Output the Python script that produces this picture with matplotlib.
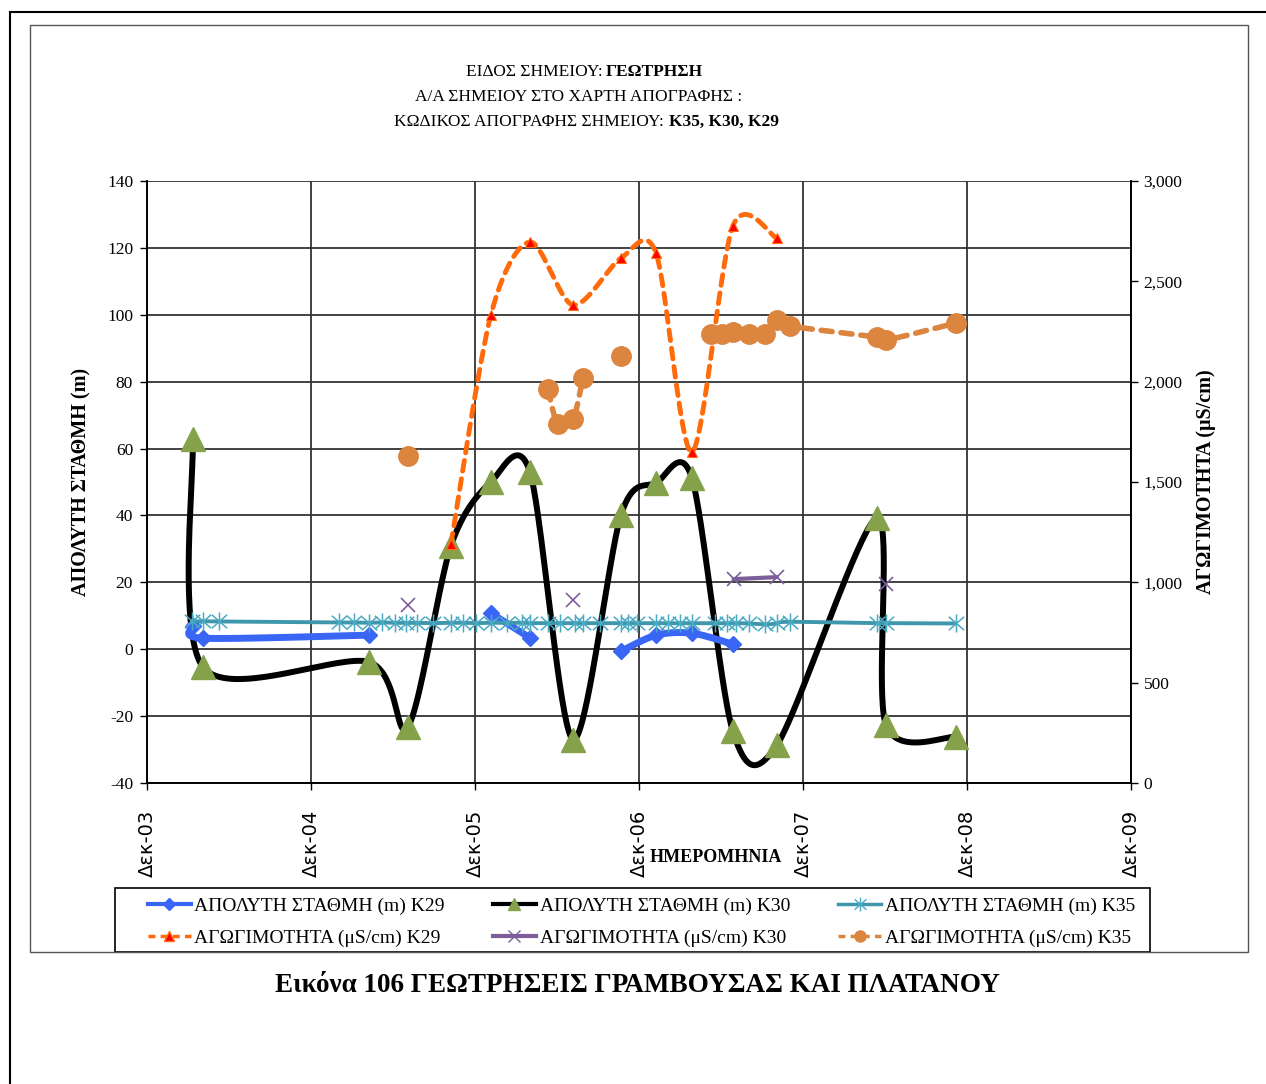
import numpy as np
import pandas as pd
import matplotlib
matplotlib.use('Agg')
import matplotlib.pyplot as plt
import matplotlib.dates as mdates
from matplotlib.lines import Line2D
from matplotlib.path import Path

SERIF = ['Liberation Serif', 'DejaVu Serif']
plt.rcParams['font.family'] = SERIF
plt.rcParams['axes.unicode_minus'] = False

# ---------------- data ----------------
# None marks a gap in a series
k29_level_dates = ['2004-03-12', '2004-04-04', '2005-04-08', None,
                   '2006-01-05', '2006-04-02', None,
                   '2006-10-22', '2007-01-08', '2007-03-29', '2007-06-28']
k29_level = [6.9, 3.3, 4.2, None, 10.8, 3.4, None, -0.6, 4.2, 4.8, 1.5]

k30_level_dates = ['2004-03-12', '2004-04-04', '2005-04-08', '2005-07-04', '2005-10-08',
                   '2006-01-05', '2006-04-02', '2006-07-07', '2006-10-22', '2007-01-08',
                   '2007-03-29', '2007-06-28', '2007-10-04', '2008-05-14', '2008-06-03',
                   '2008-11-06']
k30_level = [62.8, -5.4, -3.8, -23.3, 30.9, 50.0, 53.0, -27.0, 40.2, 49.7,
             51.1, -24.5, -28.7, 39.2, -22.6, -26.2]

k35_level_dates = ['2004-03-10', '2004-04-04', '2004-05-09', '2005-02-01', '2005-03-06',
                   '2005-04-08', '2005-05-07', '2005-06-05', '2005-06-30', '2005-07-24',
                   '2005-08-29', '2005-10-08', '2005-11-04', '2005-12-03', '2006-01-05',
                   '2006-02-10', '2006-03-15', '2006-04-02', '2006-05-12', '2006-06-08',
                   '2006-07-11', '2006-07-29', '2006-09-05', '2006-10-22', '2006-11-06',
                   '2006-11-27', '2007-01-08', '2007-02-04', '2007-03-02', '2007-03-29',
                   '2007-05-19', '2007-06-15', '2007-07-05', '2007-08-03', '2007-09-08',
                   '2007-10-04', '2007-11-02', '2008-05-14', '2008-06-03', '2008-11-06']
k35_level = [8.3, 8.4, 8.3, 8.0, 8.0, 7.9, 8.0, 7.9, 7.9, 7.9,
             7.8, 7.9, 7.9, 7.8, 7.9, 7.9, 7.9, 7.8, 7.8, 7.8,
             7.8, 7.8, 7.8, 7.8, 7.8, 7.8, 7.8, 7.8, 7.8, 7.8,
             7.8, 7.8, 7.8, 7.7, 7.4, 7.7, 8.2, 7.8, 7.8, 7.7]

k29_cond_dates = ['2005-10-08', '2006-01-05', '2006-04-02', '2006-07-07', '2006-10-22',
                  '2007-01-08', '2007-03-29', '2007-06-28', '2007-10-04']
k29_cond = [1191, 2332, 2696, 2382, 2616, 2640, 1649, 2775, 2715]

k30_cond_dates = ['2005-07-04', None, '2006-07-07', None, '2007-06-30', '2007-10-04',
                  None, '2008-06-03']
k30_cond = [885, None, 912, None, 1016, 1026, None, 992]

k35_cond_dates = ['2005-07-04', None,
                  '2006-05-12', '2006-06-03', '2006-07-07', '2006-07-29', None,
                  '2006-10-22', None,
                  '2007-05-10', '2007-06-04', '2007-06-28', '2007-08-03', '2007-09-08',
                  '2007-10-04', '2007-11-02', '2008-05-14', '2008-06-03', '2008-11-06']
k35_cond = [1629, None, 1963, 1789, 1814, 2018, None, 2128, None,
            2237, 2237, 2247, 2237, 2237, 2307, 2277, 2222, 2207, 2292]

x_tick_dates = ['2003-12-01', '2004-12-01', '2005-12-01', '2006-12-01',
                '2007-12-01', '2008-12-01', '2009-12-01']
x_tick_labels = ['Δεκ-03', 'Δεκ-04', 'Δεκ-05', 'Δεκ-06', 'Δεκ-07', 'Δεκ-08', 'Δεκ-09']
left_ticks = [-40, -20, 0, 20, 40, 60, 80, 100, 120, 140]
right_ticks = [0, 500, 1000, 1500, 2000, 2500, 3000]

legend_labels = ['ΑΠΟΛΥΤΗ ΣΤΑΘΜΗ (m) K29', 'ΑΓΩΓΙΜΟΤΗΤΑ (μS/cm) K29',
                 'ΑΠΟΛΥΤΗ ΣΤΑΘΜΗ (m) K30', 'ΑΓΩΓΙΜΟΤΗΤΑ (μS/cm) K30',
                 'ΑΠΟΛΥΤΗ ΣΤΑΘΜΗ (m) K35', 'ΑΓΩΓΙΜΟΤΗΤΑ (μS/cm) K35']

# ---------------- figure ----------------
W, H = 1266, 1084
fig = plt.figure(figsize=(W / 100, H / 100), dpi=100)
L, R, T, B = 147, 1131, 181, 783
ax = fig.add_axes([L / W, 1 - B / H, (R - L) / W, (B - T) / H])
ax2 = ax.twinx()

xt = mdates.date2num(pd.to_datetime(x_tick_dates))
ax.set_xlim(xt[0], xt[-1])
ax.set_ylim(-40, 140)
ax2.set_ylim(0, 3000)

# asterisk marker: vertical bar + X
ASTER = Path([(0, -1), (0, 1), (-0.85, -0.75), (0.85, 0.75), (-0.85, 0.75), (0.85, -0.75)],
             [Path.MOVETO, Path.LINETO, Path.MOVETO, Path.LINETO, Path.MOVETO, Path.LINETO])


def segments(dates, vals):
    segs, cx, cy = [], [], []
    for d, v in zip(dates, vals):
        if d is None:
            if cx:
                segs.append((np.array(cx), np.array(cy)))
            cx, cy = [], []
        else:
            cx.append(mdates.date2num(pd.Timestamp(d)))
            cy.append(float(v))
    if cx:
        segs.append((np.array(cx), np.array(cy)))
    return segs


def smooth(axis, xs, ys, n=40, k=1 / 6.8):
    """Excel-like smoothing (Catmull-Rom Bezier) computed in display space."""
    if len(xs) < 3:
        return xs, ys
    pts = axis.transData.transform(np.column_stack([xs, ys]))
    P = np.vstack([pts[0], pts, pts[-1]])
    out = []
    t = np.linspace(0, 1, n)[:, None]
    for i in range(1, len(P) - 2):
        p0, p1, p2, p3 = P[i - 1], P[i], P[i + 1], P[i + 2]
        c1 = p1 + (p2 - p0) * k
        c2 = p2 - (p3 - p1) * k
        seg = ((1 - t) ** 3) * p1 + 3 * ((1 - t) ** 2) * t * c1 + 3 * (1 - t) * t ** 2 * c2 + t ** 3 * p2
        out.append(seg if i == 1 else seg[1:])
    out = np.vstack(out)
    data = axis.transData.inverted().transform(out)
    return data[:, 0], data[:, 1]


def draw(axis, dates, vals, line_kw, marker_kw, z):
    for sx, sy in segments(dates, vals):
        if len(sx) > 1:
            lx, ly = smooth(axis, sx, sy)
            axis.plot(lx, ly, zorder=z, solid_capstyle='round', dash_capstyle='round', **line_kw)
        axis.plot(sx, sy, linestyle='none', zorder=z + 0.5, **marker_kw)


C_K29 = '#3a66f6'
C_K30 = '#000000'
C_K35 = '#3f97ab'
C_K29C = '#ff6a0a'
C_K30C = '#7b5e9a'
C_K35C = '#dc853f'
GREEN = '#85a24b'

draw(ax, k30_level_dates, k30_level, dict(color=C_K30, lw=4.3),
     dict(marker='^', ms=17, mfc=GREEN, mec=GREEN), 3)
draw(ax, k29_level_dates, k29_level, dict(color=C_K29, lw=5),
     dict(marker='D', ms=8, mfc=C_K29, mec=C_K29), 4)
draw(ax, k35_level_dates, k35_level, dict(color=C_K35, lw=2.8),
     dict(marker=ASTER, ms=13, mec='#4aaac4', mew=1.1), 5)

draw(ax2, k29_cond_dates, k29_cond, dict(color=C_K29C, lw=3.5, linestyle=(0, (2.2, 1.6))),
     dict(marker='^', ms=7, mfc='#ff0000', mec=C_K29C, mew=0.8), 6)
draw(ax2, k30_cond_dates, k30_cond, dict(color=C_K30C, lw=3),
     dict(marker='x', ms=10, mec=C_K30C, mew=1.2), 7)
draw(ax2, k35_cond_dates, k35_cond, dict(color=C_K35C, lw=4, linestyle=(0, (2.0, 1.6))),
     dict(marker='o', ms=14, mfc=C_K35C, mec=C_K35C), 8)

# axes styling
ax.set_yticks(left_ticks)
ax.set_xticks(xt)
ax2.set_yticks(right_ticks)
ax2.set_yticklabels(['{:,}'.format(v) for v in right_ticks])
ax.grid(True, color='#333333', lw=1.3)
ax.set_axisbelow(True)
for a in (ax, ax2):
    a.tick_params(direction='out', length=5, width=1, labelsize=12.5, colors='black')
    for s in a.spines.values():
        s.set_linewidth(1.2)
    a.spines['top'].set_visible(False)
ax.set_xticklabels(x_tick_labels, rotation=90, family=['DejaVu Sans'], fontsize=14)
ax.tick_params(axis='x', pad=14)
ax2.tick_params(axis='y', pad=4)
ax.tick_params(axis='y', pad=5)

ax.set_ylabel('ΑΠΟΛΥΤΗ ΣΤΑΘΜΗ (m)', fontsize=14.5, fontweight='bold', labelpad=11)
ax2.set_ylabel('ΑΓΩΓΙΜΟΤΗΤΑ (μS/cm)', fontsize=14.5, fontweight='bold', labelpad=10)
fig.text(716 / W, 1 - 858 / H, 'ΗΜΕΡΟΜΗΝΙΑ', fontsize=13, fontweight='bold',
         ha='center', va='center')

# title
fs_t = 12.5
fig.text(603 / W, 1 - 72 / H, 'ΕΙΔΟΣ ΣΗΜΕΙΟΥ:', fontsize=fs_t, ha='right', va='center')
fig.text(606 / W, 1 - 72 / H, 'ΓΕΩΤΡΗΣΗ', fontsize=fs_t, fontweight='bold', ha='left', va='center')
fig.text(579 / W, 1 - 97 / H, 'Α/Α ΣΗΜΕΙΟΥ ΣΤΟ ΧΑΡΤΗ ΑΠΟΓΡΑΦΗΣ :', fontsize=fs_t,
         ha='center', va='center')
fig.text(664 / W, 1 - 122 / H, 'ΚΩΔΙΚΟΣ ΑΠΟΓΡΑΦΗΣ ΣΗΜΕΙΟΥ:', fontsize=fs_t, ha='right', va='center')
fig.text(669 / W, 1 - 122 / H, 'Κ35, Κ30, Κ29', fontsize=fs_t, fontweight='bold', ha='left', va='center')

# caption
fig.text(637 / W, 1 - 986 / H, 'Εικόνα 106 ΓΕΩΤΡΗΣΕΙΣ ΓΡΑΜΒΟΥΣΑΣ ΚΑΙ ΠΛΑΤΑΝΟΥ',
         fontsize=19.5, fontweight='bold', ha='center', va='center')

# legend
handles = [
    Line2D([], [], color=C_K29, lw=3, marker='D', ms=6, mfc=C_K29, mec=C_K29),
    Line2D([], [], color=C_K29C, lw=2.5, linestyle=(0, (2, 1.5)), marker='^', ms=7, mfc='#ff0000', mec=C_K29C),
    Line2D([], [], color=C_K30, lw=3, marker='^', ms=8, mfc=GREEN, mec=GREEN),
    Line2D([], [], color=C_K30C, lw=3, marker='x', ms=9, mec=C_K30C),
    Line2D([], [], color=C_K35, lw=2.5, marker=ASTER, ms=10, mec='#4aaac4'),
    Line2D([], [], color=C_K35C, lw=2.5, linestyle=(0, (2, 1.5)), marker='o', ms=8, mfc=C_K35C, mec=C_K35C),
]
leg = fig.legend(handles, legend_labels, ncol=3, loc='center left',
                 bbox_to_anchor=(140 / W, 1 - 922 / H, 1003 / W, 0), mode='expand',
                 borderaxespad=0, fancybox=False, frameon=False, fontsize=14,
                 handlelength=2.2, handletextpad=0.2, labelspacing=0.75, columnspacing=1.0)
fig.add_artist(plt.Rectangle((115 / W, 1 - 952 / H), 1035 / W, 64 / H, transform=fig.transFigure,
                             fill=False, edgecolor='black', lw=1.2))

# chart area border and page frame
fig.add_artist(plt.Rectangle((30 / W, 1 - 952 / H), 1218 / W, 927 / H, transform=fig.transFigure,
                             fill=False, edgecolor='#555555', lw=1.0))
fig.add_artist(Line2D([10 / W, 1], [1 - 12 / H, 1 - 12 / H], transform=fig.transFigure,
                      color='black', lw=1.5))
fig.add_artist(Line2D([10 / W, 10 / W], [0, 1 - 12 / H], transform=fig.transFigure,
                      color='black', lw=1.5))

fig.savefig('out.png', dpi=100)
